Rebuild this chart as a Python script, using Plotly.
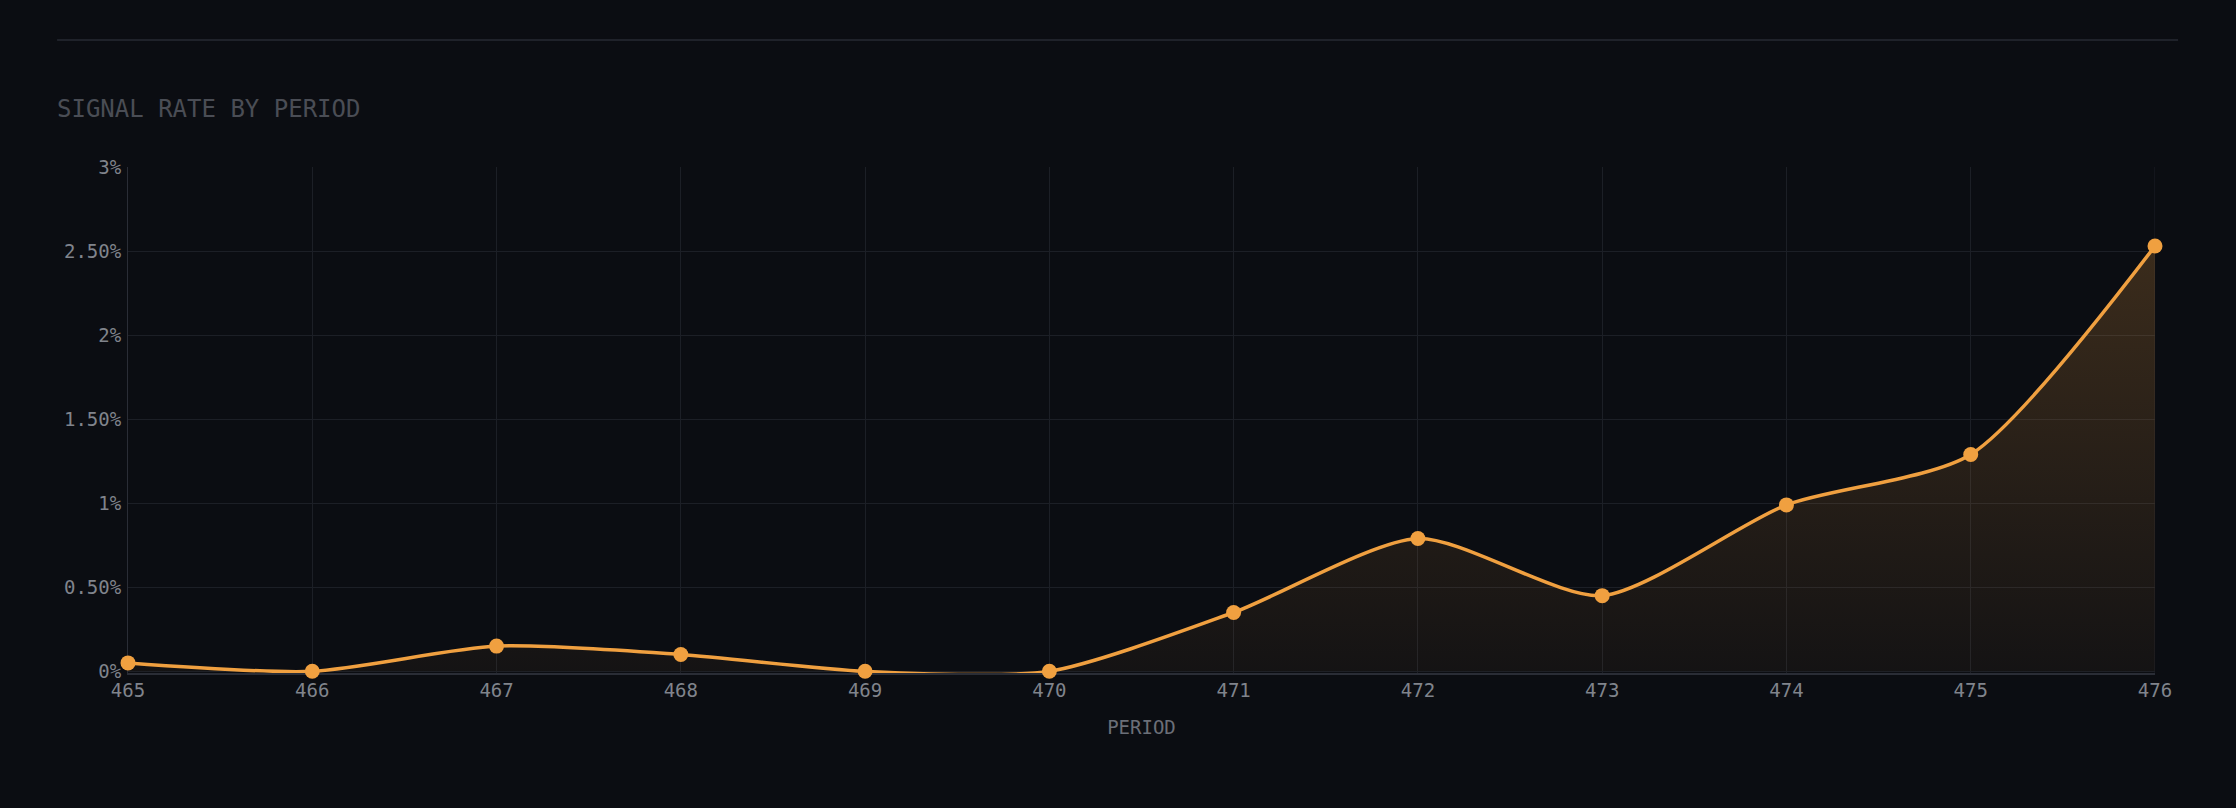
import plotly.graph_objects as go

# signal rate per period, in percent
periods = [465, 466, 467, 468, 469, 470, 471, 472, 473, 474, 475, 476]
rates = [0.05, 0.0, 0.15, 0.10, 0.0, 0.0, 0.35, 0.79, 0.45, 0.99, 1.29, 2.53]

y_ticks = [0, 0.5, 1, 1.5, 2, 2.5, 3]
y_tick_labels = ["0%", "0.50%", "1%", "1.50%", "2%", "2.50%", "3%"]

BG = "#0b0d12"
ORANGE = "#f0a040"
GRID = "#1c1f26"
AXIS = "#2a2d36"
MONO = "DejaVu Sans Mono"

fig = go.Figure()
fig.add_trace(go.Scatter(
    x=periods, y=rates,
    mode="lines+markers",
    line=dict(color=ORANGE, width=3.5, shape="spline", smoothing=0.7),
    marker=dict(color=ORANGE, size=15),
    fill="tozeroy",
    fillgradient=dict(
        type="vertical",
        colorscale=[[0, "rgba(240,160,64,0.04)"], [1, "rgba(240,160,64,0.21)"]],
    ),
    cliponaxis=False,
    hoverinfo="x+y",
    showlegend=False,
))

fig.update_layout(
    width=2236, height=808,
    paper_bgcolor=BG,
    plot_bgcolor=BG,
    margin=dict(l=128, r=81, t=167, b=135),
    font=dict(family=MONO, size=19, color="#80848c"),
    title=dict(
        text="SIGNAL RATE BY PERIOD",
        x=0.0255, xanchor="left",
        y=0.866, yanchor="middle",
        font=dict(family=MONO, size=24, color="#4a4d55"),
    ),
    # thin divider above the title
    shapes=[dict(
        type="line", xref="paper", yref="paper",
        x0=-0.035, x1=1.0114, y0=1.251, y1=1.251,
        line=dict(color="#1f222a", width=2),
    )],
)

fig.update_xaxes(
    range=[465, 476],
    tickmode="linear", tick0=465, dtick=1,
    showgrid=True, gridcolor=GRID, gridwidth=1,
    showline=True, linecolor=AXIS, linewidth=2,
    zeroline=False, layer="below traces",
    ticks="", ticklabelstandoff=-1,
    title=dict(text="PERIOD", standoff=21, font=dict(family=MONO, size=19, color="#6b6f78")),
)
fig.update_yaxes(
    range=[-0.01, 3],
    tickvals=y_ticks, ticktext=y_tick_labels,
    showgrid=True, gridcolor=GRID, gridwidth=1,
    showline=True, linecolor=AXIS, linewidth=1,
    zeroline=False, layer="below traces",
    ticks="", ticklabelstandoff=2,
)

# close off the right edge like the reference frame
fig.add_shape(type="line", xref="x", yref="paper", x0=476, x1=476, y0=0, y1=1,
              line=dict(color=GRID, width=1), layer="below")

fig.write_html(
    "out.html",
    config={"displayModeBar": False},
    post_script="document.body.style.margin='0';document.body.style.background='#0b0d12';",
)
